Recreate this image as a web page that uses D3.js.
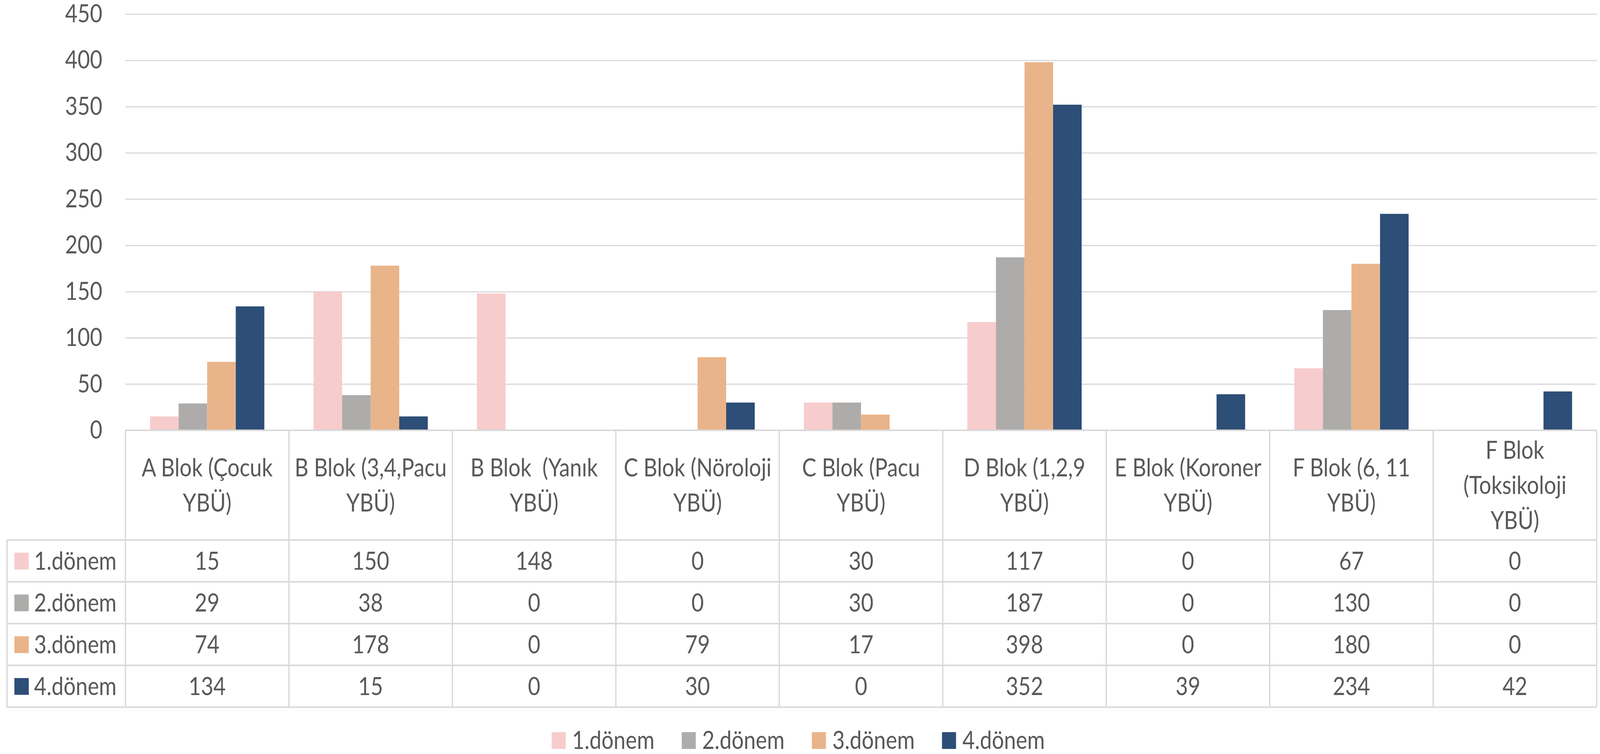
<!DOCTYPE html>
<html>
<head>
<meta charset="utf-8">
<script src="https://cdn.jsdelivr.net/npm/d3@7"></script>
<style>
  html, body { margin: 0; padding: 0; background: #fff; overflow: hidden; }
  svg { display: block; width: 100vw; height: 100vh; }
  text { font-family: Lato, 'Open Sans', sans-serif; fill: #595959; }
</style>
</head>
<body>
<svg id="chart"></svg>
<script>
(function () {
    'use strict'

    var categories = ['A Blok (Çocuk YBÜ)', 'B Blok (3,4,Pacu YBÜ)', 'B Blok  (Yanık YBÜ)',
        'C Blok (Nöroloji YBÜ)', 'C Blok (Pacu YBÜ)', 'D Blok (1,2,9 YBÜ)',
        'E Blok (Koroner YBÜ)', 'F Blok (6, 11 YBÜ)', 'F Blok (Toksikoloji YBÜ)']
    var categoryLines = [
        ['A Blok (Çocuk', 'YBÜ)'], ['B Blok (3,4,Pacu', 'YBÜ)'], ['B Blok  (Yanık', 'YBÜ)'],
        ['C Blok (Nöroloji', 'YBÜ)'], ['C Blok (Pacu', 'YBÜ)'], ['D Blok (1,2,9', 'YBÜ)'],
        ['E Blok (Koroner', 'YBÜ)'], ['F Blok (6, 11', 'YBÜ)'], ['F Blok', '(Toksikoloji', 'YBÜ)']
    ]
    var seriesNames = ['1.dönem', '2.dönem', '3.dönem', '4.dönem']
    var donem1 = [15, 150, 148, 0, 30, 117, 0, 67, 0]
    var donem2 = [29, 38, 0, 0, 30, 187, 0, 130, 0]
    var donem3 = [74, 178, 0, 79, 17, 398, 0, 180, 0]
    var donem4 = [134, 15, 0, 30, 0, 352, 39, 234, 42]
    var yTicks = [0, 50, 100, 150, 200, 250, 300, 350, 400, 450]

    var seriesValues = [donem1, donem2, donem3, donem4]
    var colors = ['#f7cccc', '#adacaa', '#e9b48a', '#2d4e76']

    var W = 4783, H = 1931
    var plotLeft = 375, plotRight = 4773, plotTop = 36, plotBottom = 1102
    var tableLeft = 21, headerBottom = 1383, rowH = 107
    var fontSize = 64
    var lineCol = '#d9d9d9'

    var svg = d3.select('#chart')
        .attr('viewBox', '0 0 ' + W + ' ' + H)
        .attr('preserveAspectRatio', 'none')

    var x0 = d3.scaleBand().domain(categories).range([plotLeft, plotRight])
    var x1 = d3.scaleBand().domain(seriesNames).range([0, x0.bandwidth()]).paddingOuter(0.86)
    var y = d3.scaleLinear().domain([0, 450]).range([plotBottom, plotTop])

    // gridlines + y labels
    var yAxis = svg.append('g')
        .attr('transform', 'translate(' + plotLeft + ',0)')
        .call(d3.axisLeft(y).tickValues(yTicks).tickSize(-(plotRight - plotLeft)).tickPadding(plotLeft - 306))
    yAxis.select('.domain').remove()
    yAxis.selectAll('line').attr('stroke', lineCol).attr('stroke-width', 3)
    yAxis.selectAll('text').style('font-size', fontSize + 'px').attr('fill', '#595959')
        .style('font-family', 'Lato, sans-serif')

    // bars
    var groups = svg.append('g').selectAll('g')
        .data(categories)
        .enter().append('g')
        .attr('transform', function (d) { return 'translate(' + x0(d) + ',0)' })

    groups.selectAll('rect')
        .data(function (d, i) {
            return seriesNames.map(function (s, j) { return { s: s, v: seriesValues[j][i], j: j } })
        })
        .enter().append('rect')
        .attr('x', function (d) { return x1(d.s) })
        .attr('width', x1.bandwidth())
        .attr('y', function (d) { return y(d.v) })
        .attr('height', function (d) { return y(0) - y(d.v) })
        .attr('fill', function (d) { return colors[d.j] })

    // data table
    var table = svg.append('g')
    var tableBottom = headerBottom + rowH * seriesNames.length

    // horizontal lines
    table.append('line').attr('x1', plotLeft).attr('x2', plotRight)
        .attr('y1', plotBottom).attr('y2', plotBottom)
    d3.range(seriesNames.length + 1).forEach(function (k) {
        var yy = headerBottom + k * rowH
        table.append('line').attr('x1', tableLeft).attr('x2', plotRight)
            .attr('y1', yy).attr('y2', yy)
    })
    // vertical lines
    table.append('line').attr('x1', tableLeft).attr('x2', tableLeft)
        .attr('y1', headerBottom).attr('y2', tableBottom)
    categories.forEach(function (c) {
        table.append('line').attr('x1', x0(c)).attr('x2', x0(c))
            .attr('y1', plotBottom).attr('y2', tableBottom)
    })
    table.append('line').attr('x1', plotRight).attr('x2', plotRight)
        .attr('y1', plotBottom).attr('y2', tableBottom)
    table.selectAll('line').attr('stroke', lineCol).attr('stroke-width', 4)

    // header labels
    var lineGap = 90
    var headerMid = (plotBottom + headerBottom) / 2
    categories.forEach(function (c, i) {
        var lines = categoryLines[i]
        var t = table.append('text')
            .attr('x', x0(c) + x0.bandwidth() / 2)
            .attr('text-anchor', 'middle')
            .style('font-size', fontSize + 'px')
            .style('white-space', 'pre')
        lines.forEach(function (l, k) {
            t.append('tspan')
                .attr('x', x0(c) + x0.bandwidth() / 2)
                .attr('y', headerMid + (k - (lines.length - 1) / 2) * lineGap)
                .attr('dy', '0.35em')
                .text(l)
        })
    })

    // rows
    seriesNames.forEach(function (s, j) {
        var cy = headerBottom + j * rowH + rowH / 2
        table.append('rect')
            .attr('x', 43).attr('y', cy - 21).attr('width', 43).attr('height', 43)
            .attr('fill', colors[j])
        table.append('text')
            .attr('x', 102).attr('y', cy).attr('dy', '0.35em')
            .style('font-size', fontSize + 'px')
            .text(s)
        categories.forEach(function (c, i) {
            table.append('text')
                .attr('x', x0(c) + x0.bandwidth() / 2).attr('y', cy).attr('dy', '0.35em')
                .attr('text-anchor', 'middle')
                .style('font-size', fontSize + 'px')
                .text(seriesValues[j][i])
        })
    })

    // legend
    var legend = svg.append('g').attr('transform', 'translate(1649,1896)')
    var item = legend.selectAll('g')
        .data(seriesNames)
        .enter().append('g')
        .attr('transform', function (d, i) { return 'translate(' + (i * 389) + ',0)' })
    item.append('rect')
        .attr('x', 0).attr('y', -21).attr('width', 42).attr('height', 43)
        .attr('fill', function (d, i) { return colors[i] })
    item.append('text')
        .attr('x', 61).attr('y', 0).attr('dy', '0.35em')
        .style('font-size', fontSize + 'px')
        .text(function (d) { return d })
})()
</script>
</body>
</html>
